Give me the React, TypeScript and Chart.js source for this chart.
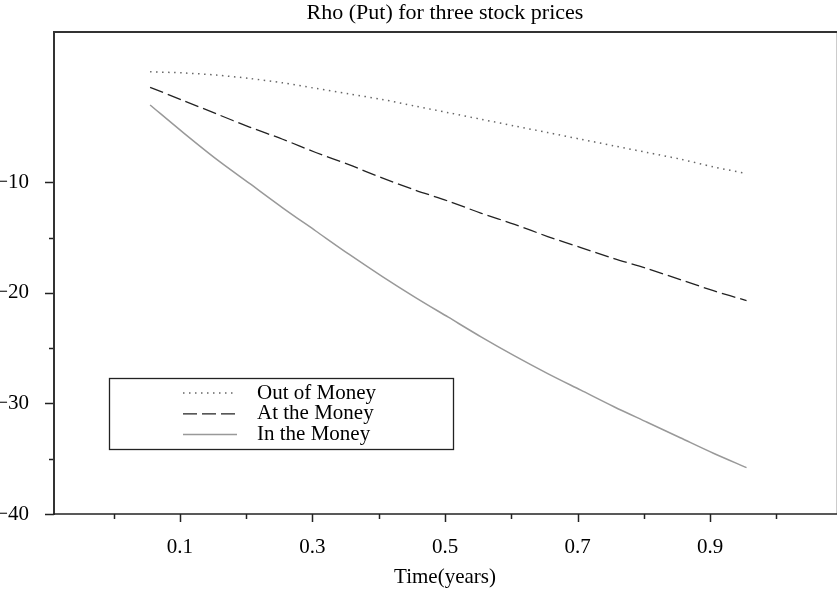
import { useEffect, useRef } from 'react';
import { Chart, registerables } from 'chart.js';

Chart.register(...registerables);

const chartTitle = 'Rho (Put) for three stock prices';
const xAxisTitle = 'Time(years)';

const times = [0.055, 0.105, 0.155, 0.205, 0.255, 0.305, 0.355, 0.405, 0.455, 0.505, 0.555, 0.605, 0.655, 0.705, 0.755, 0.805, 0.855, 0.905, 0.955];
const outOfMoney = [0.0, -0.1, -0.3, -0.6, -1.0, -1.5, -2.0, -2.5, -3.1, -3.7, -4.3, -4.9, -5.5, -6.1, -6.7, -7.3, -7.9, -8.6, -9.2];
const atTheMoney = [-1.4, -2.6, -3.8, -5.0, -6.1, -7.3, -8.4, -9.6, -10.7, -11.7, -12.8, -13.8, -14.9, -15.9, -16.9, -17.8, -18.8, -19.8, -20.7];
const inTheMoney = [-3.0, -5.5, -7.9, -10.1, -12.3, -14.4, -16.5, -18.5, -20.4, -22.2, -24.0, -25.7, -27.3, -28.8, -30.3, -31.7, -33.1, -34.5, -35.8];
const seriesLabels = ['Out of Money', 'At the Money', 'In the Money'];

const xMajorTicks = [0.1, 0.3, 0.5, 0.7, 0.9];
const xMinorTicks = [0.0, 0.2, 0.4, 0.6, 0.8, 1.0];
const xTickLabels = ['0.1', '0.3', '0.5', '0.7', '0.9'];
const yMajorTicks = [-10, -20, -30, -40];
const yMinorTicks = [-15, -25, -35];
const yTickLabels = ['\u221210', '\u221220', '\u221230', '\u221240'];

const FONT = '"Liberation Serif", "Times New Roman", serif';

const findLabel = (majors: number[], labels: string[], v: number) => {
  const i = majors.findIndex((m) => Math.abs(m - v) < 1e-9);
  return i >= 0 ? labels[i] : '';
};

const framePlugin = {
  id: 'frameTicks',
  afterDraw(chart: any) {
    const { ctx, chartArea } = chart;
    const { left, right, top, bottom } = chartArea;
    const xs = chart.scales.x;
    const ys = chart.scales.y;
    ctx.save();
    ctx.strokeStyle = '#222';
    ctx.lineWidth = 1.5;
    const seg = (x1: number, y1: number, x2: number, y2: number) => {
      ctx.beginPath();
      ctx.moveTo(x1, y1);
      ctx.lineTo(x2, y2);
      ctx.stroke();
    };
    xMajorTicks.forEach((v) => {
      const p = Math.round(xs.getPixelForValue(v)) + 0.5;
      seg(p, bottom, p, bottom + 8);
    });
    xMinorTicks.forEach((v) => {
      const p = Math.round(xs.getPixelForValue(v)) + 0.5;
      seg(p, bottom, p, bottom + 5);
    });
    yMajorTicks.forEach((v) => {
      const p = Math.round(ys.getPixelForValue(v)) + 0.5;
      seg(left - 9, p, left, p);
    });
    yMinorTicks.forEach((v) => {
      const p = Math.round(ys.getPixelForValue(v)) + 0.5;
      seg(left - 5, p, left, p);
    });
    ctx.strokeStyle = '#cccccc';
    ctx.lineWidth = 1;
    seg(right + 0.5, top, right + 0.5, bottom);
    ctx.strokeStyle = '#333';
    ctx.lineWidth = 2;
    seg(left - 1, top, right + 1, top);
    seg(left, top - 1, left, bottom + 1);
    ctx.strokeStyle = '#222';
    ctx.lineWidth = 1.7;
    seg(left - 1, bottom, right + 1, bottom);

    const bx = 109.5, by = 378.5, bw = 344, bh = 71;
    ctx.fillStyle = '#fff';
    ctx.fillRect(bx, by, bw, bh);
    ctx.strokeStyle = '#222';
    ctx.lineWidth = 1.3;
    ctx.strokeRect(bx, by, bw, bh);
    ctx.font = `21px ${FONT}`;
    ctx.textBaseline = 'middle';
    ctx.textAlign = 'left';
    chart.data.datasets.forEach((ds: any, i: number) => {
      const y = 393 + i * 20.8;
      ctx.save();
      ctx.strokeStyle = ds.borderColor;
      ctx.lineWidth = ds.borderWidth;
      ctx.setLineDash(ds.borderDash || []);
      ctx.beginPath();
      ctx.moveTo(183, y);
      ctx.lineTo(237, y);
      ctx.stroke();
      ctx.restore();
      ctx.fillStyle = '#000';
      ctx.fillText(ds.label, 257, y);
    });
    ctx.restore();
  },
};

export default function App() {
  const ref = useRef<HTMLCanvasElement | null>(null);
  useEffect(() => {
    if (!ref.current) return;
    const mk = (arr: number[]) => times.map((t, i) => ({ x: t, y: arr[i] }));
    const chart = new Chart(ref.current, {
      type: 'line',
      data: {
        datasets: [
          {
            label: seriesLabels[0],
            data: mk(outOfMoney),
            borderColor: '#666',
            borderWidth: 1.5,
            borderDash: [1.5, 4.5],
            pointRadius: 0,
            tension: 0.3,
            fill: false,
          },
          {
            label: seriesLabels[1],
            data: mk(atTheMoney),
            borderColor: '#222',
            borderWidth: 1.3,
            borderDash: [14, 5],
            pointRadius: 0,
            tension: 0.3,
            fill: false,
          },
          {
            label: seriesLabels[2],
            data: mk(inTheMoney),
            borderColor: '#999',
            borderWidth: 1.5,
            pointRadius: 0,
            tension: 0.3,
            fill: false,
          },
        ],
      },
      options: {
        responsive: false,
        animation: false,
        devicePixelRatio: 1,
        layout: { padding: { top: 0, left: 0, right: 1, bottom: 0 } },
        plugins: {
          legend: { display: false },
          tooltip: { enabled: false },
          title: {
            display: true,
            text: chartTitle,
            fullSize: false,
            color: '#000',
            font: { family: FONT, size: 22, weight: 'normal' },
            padding: { top: 0, bottom: 5.6 },
          },
        },
        scales: {
          x: {
            type: 'linear',
            min: -0.09,
            max: 1.09,
            grid: { display: false },
            border: { display: false },
            afterBuildTicks: (scale: any) => {
              scale.ticks = [...xMajorTicks, ...xMinorTicks].sort((a, b) => a - b).map((v) => ({ value: v }));
            },
            afterFit: (scale: any) => {
              scale.height = 77;
            },
            ticks: {
              color: '#000',
              font: { family: FONT, size: 21 },
              padding: 13,
              maxRotation: 0,
              autoSkip: false,
              callback: (v: any) => findLabel(xMajorTicks, xTickLabels, Number(v)),
            },
            title: {
              display: true,
              text: xAxisTitle,
              color: '#000',
              font: { family: FONT, size: 21 },
              padding: { top: 0, bottom: 1 },
            },
          },
          y: {
            type: 'linear',
            min: -40,
            max: 3.6,
            grid: { display: false },
            border: { display: false },
            afterBuildTicks: (scale: any) => {
              scale.ticks = [...yMajorTicks, ...yMinorTicks].sort((a, b) => a - b).map((v) => ({ value: v }));
            },
            afterFit: (scale: any) => {
              scale.width = 54;
            },
            ticks: {
              color: '#000',
              font: { family: FONT, size: 21 },
              padding: 17,
              autoSkip: false,
              callback: (v: any) => findLabel(yMajorTicks, yTickLabels, Number(v)),
            },
          },
        },
      },
      plugins: [framePlugin],
    } as any);
    return () => chart.destroy();
  }, []);
  return (
    <div style={{ position: 'absolute', left: 0, top: 0, width: 837, height: 591 }}>
      <canvas ref={ref} width={837} height={591} />
    </div>
  );
}
